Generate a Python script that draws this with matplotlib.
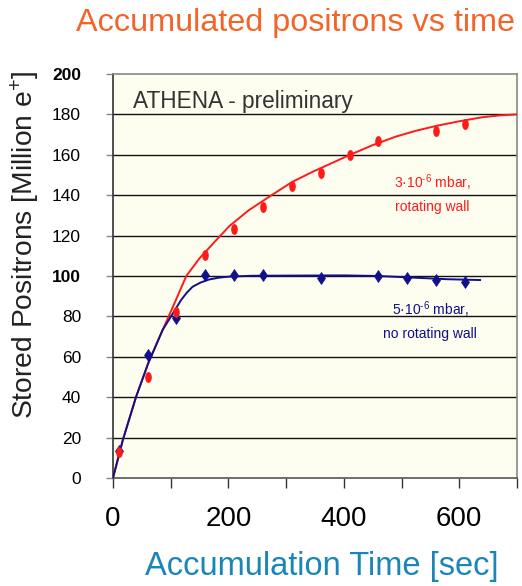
import matplotlib
matplotlib.use("Agg")
import matplotlib.pyplot as plt
from matplotlib.path import Path
from matplotlib.transforms import Affine2D

plt.rcParams['font.family'] = ['Liberation Sans', 'DejaVu Sans']
plt.rcParams['mathtext.fontset'] = 'custom'
plt.rcParams['mathtext.rm'] = 'Liberation Sans'
plt.rcParams['mathtext.it'] = 'Liberation Sans:italic'
plt.rcParams['mathtext.bf'] = 'Liberation Sans:bold'

# ---- data ----
red_t = [10, 60, 110, 160, 210, 260, 310, 360, 410, 460, 560, 610]
red_n = [13.0, 50.2, 82.3, 110.4, 123.1, 134.3, 144.6, 151.0, 159.9, 167.0, 171.8, 175.4]

blue_t = [10, 60, 110, 160, 210, 260, 360, 460, 510, 560, 610]
blue_n = [13.5, 60.9, 79.1, 100.5, 100.5, 100.5, 98.9, 100.0, 98.9, 98.2, 96.9]

red_fit_t = [0, 17, 40, 61, 86, 107, 127, 150, 179, 202, 235, 271, 310, 346,
             410, 450, 490, 525, 560, 600, 640, 670, 700]
red_fit_n = [0, 18.8, 40.2, 56.8, 73.3, 86.8, 100.0, 108.8, 117.8, 124.8, 132.5,
             139.3, 146.5, 151.6, 159.9, 164.8, 169.0, 171.9, 174.3, 176.6, 178.6,
             179.5, 180.0]

blue_fit_t = [0, 17, 40, 61, 86, 107, 118, 128, 138, 152, 167, 184, 202, 240,
              300, 400, 460, 520, 580, 636]
blue_fit_n = [0, 18.8, 40.2, 56.8, 73.3, 83.0, 88.1, 91.8, 94.7, 96.8, 98.3, 99.2,
              99.7, 100.1, 100.2, 100.3, 100.0, 99.2, 98.4, 98.0]

x_ticks = [0, 100, 200, 300, 400, 500, 600, 700]
x_labels = ['0', '', '200', '', '400', '', '600', '']
y_ticks = [0, 20, 40, 60, 80, 100, 120, 140, 160, 180, 200]
y_labels = ['0', '20', '40', '60', '80', '100', '120', '140', '160', '180', '200']
bold_y = ['100', '200']

RED = '#ff1a1a'
BLUE = '#10108a'

fig = plt.figure(figsize=(5.22, 5.86), dpi=100)
ax = fig.add_axes([113/522, 1 - 478/586, 404/522, 404/586])
ax.set_facecolor('#fdfdf0')

ax.set_xlim(0, 700)
ax.set_ylim(0, 200)

for y in y_ticks[1:-1]:
    ax.axhline(y, color='#111111', lw=1.0, zorder=1)

ell = Path.unit_circle().transformed(Affine2D().scale(0.55, 1.0))

ax.plot(red_fit_t, red_fit_n, color=RED, lw=1.4, zorder=3)
ax.plot(blue_fit_t, blue_fit_n, color=BLUE, lw=1.4, zorder=3)
ax.plot(blue_t, blue_n, ls='none', marker='d', ms=6.5, color=BLUE, mec=BLUE,
        zorder=4, markeredgewidth=0.5)
ax.plot(red_t, red_n, ls='none', marker=ell, ms=6.8, color=RED, mec=RED, zorder=5)

for s in ['top', 'right']:
    ax.spines[s].set_color('#888888')
    ax.spines[s].set_linewidth(1.2)
ax.spines['left'].set_color('#333333')
ax.spines['bottom'].set_color('#555555')
ax.spines['left'].set_linewidth(1.2)
ax.spines['bottom'].set_linewidth(1.2)

ax.set_xticks(x_ticks)
ax.set_xticklabels(x_labels)
ax.tick_params(axis='x', direction='out', length=7, width=1, color='#333333',
               labelsize=20, pad=13)
ax.set_yticks(y_ticks)
ax.set_yticklabels(y_labels)
ax.tick_params(axis='y', direction='out', length=5, width=1, color='#888888',
               labelsize=12.5, pad=18)
for lab in ax.get_yticklabels():
    if lab.get_text() in bold_y:
        lab.set_fontweight('bold')

ax.text(0.05, 0.96, 'ATHENA - preliminary', transform=ax.transAxes,
        fontsize=16.3, color='#333333', ha='left', va='top')

ax.text(553, 141, '3·10$^{\\text{-}6}$ mbar,\nrotating wall', color=RED, fontsize=10,
        ha='center', va='center', linespacing=1.6)
ax.text(550, 78, '5·10$^{\\text{-}6}$ mbar,\nno rotating wall', color=BLUE, fontsize=10,
        ha='center', va='center', linespacing=1.6)

fig.text(296/522, 1 - 23/586, 'Accumulated positrons vs time', color='#f26528',
         fontsize=23.3, ha='center', va='center')
fig.text(322/522, 1 - 566/586, 'Accumulation Time [sec]', color='#1a86b8',
         fontsize=23.5, ha='center', va='center')
fig.text(25/522, 1 - 245/586, 'Stored Positrons [Million e$^{+}$]', color='#222222',
         fontsize=20.3, ha='center', va='center', rotation=90)

fig.savefig('out.png', dpi=100)
